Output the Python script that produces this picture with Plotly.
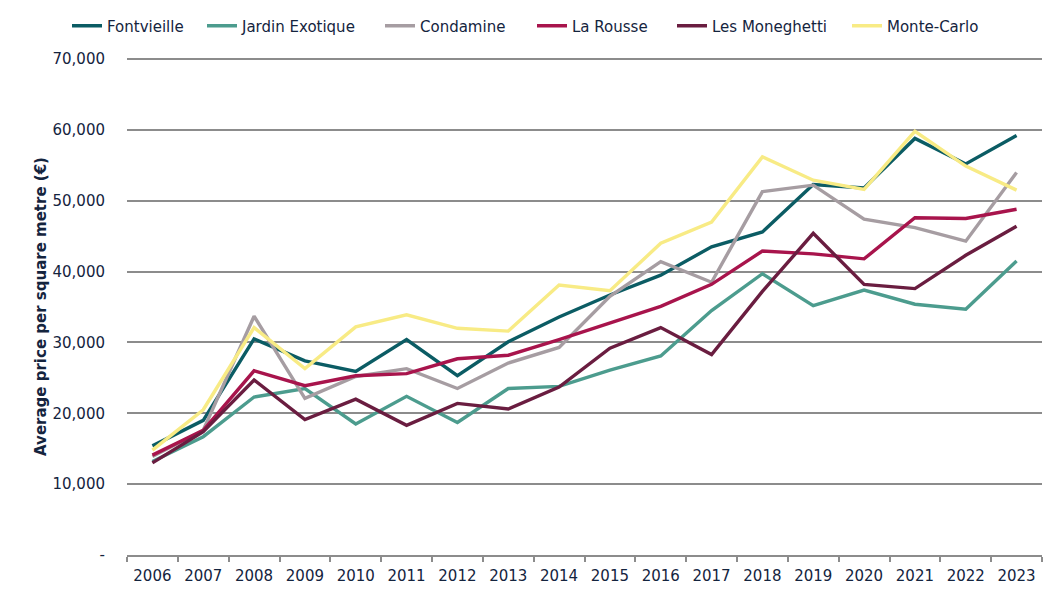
import plotly.graph_objects as go

years = [str(y) for y in range(2006, 2024)]

fontvieille = [15400, 19000, 30500, 27400, 25900, 30400, 25300, 30100, 33600, 36700, 39500, 43500, 45600, 52300, 51800, 58800, 55200, 59200]
jardin_exotique = [13200, 16700, 22300, 23500, 18500, 22400, 18700, 23500, 23800, 26100, 28100, 34500, 39700, 35200, 37400, 35400, 34700, 41500]
condamine = [13900, 17600, 33700, 22100, 25200, 26300, 23500, 27100, 29300, 36500, 41400, 38500, 51300, 52200, 47400, 46200, 44300, 54000]
la_rousse = [14100, 17600, 26000, 23900, 25300, 25600, 27700, 28200, 30400, 32700, 35100, 38200, 42900, 42500, 41800, 47600, 47500, 48800]
les_moneghetti = [13000, 17400, 24700, 19100, 22000, 18300, 21400, 20600, 23700, 29200, 32100, 28300, 37200, 45400, 38200, 37600, 42300, 46400]
monte_carlo = [14800, 20500, 32100, 26300, 32200, 33900, 32000, 31600, 38100, 37300, 44000, 47000, 56200, 52900, 51600, 59800, 54900, 51500]

series_names = ["Fontvieille", "Jardin Exotique", "Condamine", "La Rousse", "Les Moneghetti", "Monte-Carlo"]
series_values = [fontvieille, jardin_exotique, condamine, la_rousse, les_moneghetti, monte_carlo]
colors = ["#0b5c64", "#4c9c8e", "#a69da2", "#a8144c", "#6a1d40", "#f8eb85"]

y_tickvals = [0, 10000, 20000, 30000, 40000, 50000, 60000, 70000]
y_ticktext = ["-", "10,000", "20,000", "30,000", "40,000", "50,000", "60,000", "70,000"]

# legend entry left positions (px in figure)
legend_x_px = [59, 194, 372, 524, 664, 839]

font_color = "#14243e"
fam = "DejaVu Sans"

fig = go.Figure()
legend_ids = ["legend"] + [f"legend{i}" for i in range(2, len(series_names) + 1)]
for name, vals, col, lid in zip(series_names, series_values, colors, legend_ids):
    fig.add_trace(go.Scatter(x=years, y=vals, name=name, mode="lines",
                             line=dict(color=col, width=3.4), legend=lid))

legend_layout = {}
for lid, xpx in zip(legend_ids, legend_x_px):
    legend_layout[lid] = dict(orientation="h", xref="container", x=xpx / 1062, xanchor="left",
                              yref="container", y=1 - 18 / 597, yanchor="middle",
                              font=dict(family=fam, size=15, color=font_color),
                              borderwidth=0, bgcolor="rgba(0,0,0,0)")

fig.update_layout(
    width=1062, height=597,
    margin=dict(l=119, r=28, t=50, b=50, autoexpand=False),
    paper_bgcolor="white", plot_bgcolor="white",
    font=dict(family=fam, size=15, color=font_color),
    showlegend=True,
    **legend_layout,
)
fig.update_xaxes(
    type="category", showgrid=False, showline=True, linecolor="#8c8c8c", linewidth=1.5,
    ticks="outside", tickson="boundaries", ticklen=5, tickcolor="#8c8c8c", tickwidth=1.5,
    tickfont=dict(family=fam, size=15, color=font_color), range=[-0.5, 17.5],
    ticklabelstandoff=6,
)
fig.update_yaxes(
    range=[0, 70150], tickvals=y_tickvals, ticktext=y_ticktext,
    showgrid=True, gridcolor="#8c8c8c", gridwidth=1.5, zeroline=False,
    showline=False, tickfont=dict(family=fam, size=15, color=font_color), ticklabelstandoff=21,
    title=dict(text="<b>Average price per square metre (€)</b>",
               font=dict(family=fam, size=15, color=font_color), standoff=2),
)

fig.write_html("out.html")
